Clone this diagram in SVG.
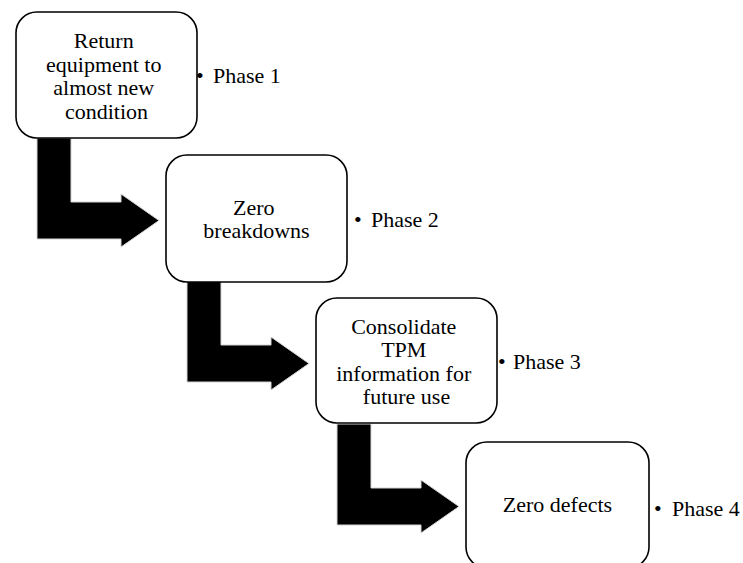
<svg xmlns="http://www.w3.org/2000/svg" width="743" height="563" viewBox="0 0 743 563">
  <defs>
    <style>
      .box { fill: #ffffff; stroke: #000000; stroke-width: 1.6; }
      .arrow { fill: #000000; stroke: #d4d4d4; stroke-width: 1; }
      text { font-family: 'Liberation Serif', 'Times New Roman', serif; font-size: 22px; fill: #000000; }
      .label { text-anchor: middle; }
    </style>
    <!-- bent block arrow: shaft down, then right into the next step -->
    <polygon id="bent-arrow" points="37,138 71,138 71,202 121,202 121,194 159,220.5 121,247 121,239 37,239"/>
  </defs>
  <rect width="743" height="563" fill="#ffffff"/>

  <g id="connectors">
    <use href="#bent-arrow" class="arrow"/>
    <use href="#bent-arrow" class="arrow" transform="translate(150,143)"/>
    <use href="#bent-arrow" class="arrow" transform="translate(300,286)"/>
  </g>

  <g id="step1">
    <rect class="box" x="16" y="12" width="181" height="126" rx="21" ry="21"/>
    <text class="label">
      <tspan x="106.5" y="48">Return</tspan>
      <tspan x="106.5" y="71.5">equipment to</tspan>
      <tspan x="106.5" y="95">almost new</tspan>
      <tspan x="106.5" y="118.5">condition</tspan>
    </text>
  </g>
  <g id="phase1">
    <text x="196" y="83">•</text>
    <text x="213" y="83">Phase 1</text>
  </g>

  <g id="step2">
    <rect class="box" x="166" y="155" width="181" height="127" rx="21" ry="21"/>
    <text class="label">
      <tspan x="256.5" y="215">Zero</tspan>
      <tspan x="256.5" y="238">breakdowns</tspan>
    </text>
  </g>
  <g id="phase2">
    <text x="354" y="227">•</text>
    <text x="371" y="227">Phase 2</text>
  </g>

  <g id="step3">
    <rect class="box" x="316" y="298" width="181" height="125" rx="21" ry="21"/>
    <text class="label">
      <tspan x="406.5" y="333.5">Consolidate</tspan>
      <tspan x="406.5" y="357">TPM</tspan>
      <tspan x="406.5" y="380.5">information for</tspan>
      <tspan x="406.5" y="404">future use</tspan>
    </text>
  </g>
  <g id="phase3">
    <text x="498" y="369">•</text>
    <text x="513" y="369">Phase 3</text>
  </g>

  <g id="step4">
    <rect class="box" x="466" y="442" width="183" height="126" rx="21" ry="21"/>
    <text class="label" x="557.5" y="512">Zero defects</text>
  </g>
  <g id="phase4">
    <text x="654" y="516">•</text>
    <text x="672" y="516">Phase 4</text>
  </g>
</svg>
